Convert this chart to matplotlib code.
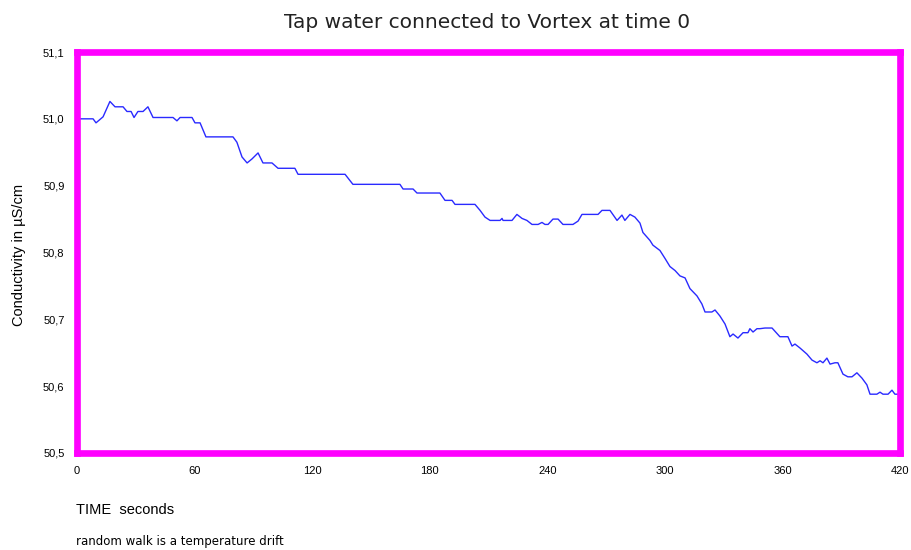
import matplotlib
matplotlib.use("Agg")
import matplotlib.pyplot as plt

# time in seconds, conductivity in uS/cm
time_s = [0, 8.2, 9.7, 13.3, 16.8, 19.4, 23.5, 25.5, 27.6, 29.1, 31.1, 33.7, 36.2, 38.8,
          49.0, 51.0, 52.6, 58.7, 60.2, 62.8, 65.8, 79.6, 81.6, 84.2, 86.8, 89.3, 92.4,
          94.9, 99.5, 102.6, 111.2, 112.8, 136.8, 140.8, 164.8, 166.4, 171.5, 173.5,
          185.2, 187.8, 191.4, 192.9, 203.1, 205.7, 208.2, 210.8, 215.9, 216.9, 217.4,
          222.0, 224.5, 227.1, 229.6, 232.2, 235.3, 237.3, 238.8, 240.4, 242.9, 245.5,
          248.0, 253.1, 255.7, 257.7, 265.9, 267.9, 272.0, 275.6, 278.1, 279.6, 282.2,
          284.7, 287.3, 288.8, 292.4, 293.9, 297.5, 300.1, 302.6, 305.2, 307.7, 310.3,
          312.8, 316.4, 318.9, 320.5, 324.0, 325.6, 328.1, 330.7, 333.2, 334.8, 337.3,
          339.9, 342.4, 343.4, 345.0, 347.0, 348.5, 351.1, 354.7, 358.7, 362.8, 364.9,
          366.4, 369.0, 372.5, 375.1, 377.6, 379.2, 380.7, 382.7, 384.3, 386.8, 388.3,
          390.9, 393.4, 395.5, 398.0, 400.6, 403.1, 404.7, 408.2, 409.8, 411.3, 413.9,
          415.9, 417.4, 420.0]
conductivity = [51.000, 51.000, 50.994, 51.003, 51.026, 51.018, 51.018, 51.011, 51.011,
                51.002, 51.011, 51.011, 51.018, 51.002, 51.002, 50.997, 51.002, 51.002,
                50.994, 50.994, 50.973, 50.973, 50.965, 50.943, 50.934, 50.940, 50.949,
                50.934, 50.934, 50.926, 50.926, 50.917, 50.917, 50.902, 50.902, 50.895,
                50.895, 50.889, 50.889, 50.878, 50.878, 50.872, 50.872, 50.863, 50.853,
                50.848, 50.848, 50.851, 50.848, 50.848, 50.857, 50.851, 50.848, 50.842,
                50.842, 50.845, 50.842, 50.842, 50.850, 50.850, 50.842, 50.842, 50.847,
                50.857, 50.857, 50.863, 50.863, 50.848, 50.856, 50.848, 50.857, 50.853,
                50.844, 50.830, 50.818, 50.811, 50.803, 50.791, 50.779, 50.773, 50.765,
                50.762, 50.746, 50.735, 50.723, 50.711, 50.711, 50.714, 50.705, 50.693,
                50.674, 50.678, 50.672, 50.680, 50.680, 50.686, 50.681, 50.686, 50.686,
                50.687, 50.687, 50.674, 50.674, 50.660, 50.663, 50.657, 50.648, 50.639,
                50.635, 50.638, 50.635, 50.642, 50.633, 50.635, 50.635, 50.618, 50.614,
                50.614, 50.620, 50.612, 50.602, 50.588, 50.588, 50.591, 50.588, 50.588,
                50.594, 50.588, 50.588]

x_ticks = [0, 60, 120, 180, 240, 300, 360, 420]
y_ticks = [50.5, 50.6, 50.7, 50.8, 50.9, 51.0, 51.1]
y_labels = ["50,5", "50,6", "50,7", "50,8", "50,9", "51,0", "51,1"]

plt.rcParams['font.family'] = ['Liberation Sans', 'DejaVu Sans']

fig = plt.figure(figsize=(9.11, 5.5), dpi=100)
ax = fig.add_axes([77 / 911, 1 - 453 / 550, 823 / 911, 401 / 550])

ax.plot(time_s, conductivity, color='#2a2aff', linewidth=1.0)
ax.axvline(0, color='black', linewidth=1.5)

ax.set_xlim(0, 420)
ax.set_ylim(50.5, 51.1)
ax.set_xticks(x_ticks)
ax.set_xticklabels([str(t) for t in x_ticks], fontsize=8)
ax.set_yticks(y_ticks)
ax.set_yticklabels(y_labels, fontsize=8)
ax.tick_params(length=0, pad=9)

for s in ax.spines.values():
    s.set_color('#ff00ff')
    s.set_linewidth(4.8)

fig.text(487 / 911, 1 - 22 / 550, 'Tap water connected to Vortex at time 0',
         ha='center', va='center', fontsize=14.5, family='DejaVu Sans', color='#222222')
fig.text(19 / 911, 1 - 255 / 550, 'Conductivity in µS/cm', rotation=90,
         ha='center', va='center', fontsize=10.5)
fig.text(76 / 911, 1 - 510 / 550, 'TIME  seconds', ha='left', va='center', fontsize=10.5)
fig.text(76 / 911, 1 - 541 / 550, 'random walk is a temperature drift',
         ha='left', va='center', fontsize=8.5, family='DejaVu Sans')

fig.savefig('out.png', dpi=100)
